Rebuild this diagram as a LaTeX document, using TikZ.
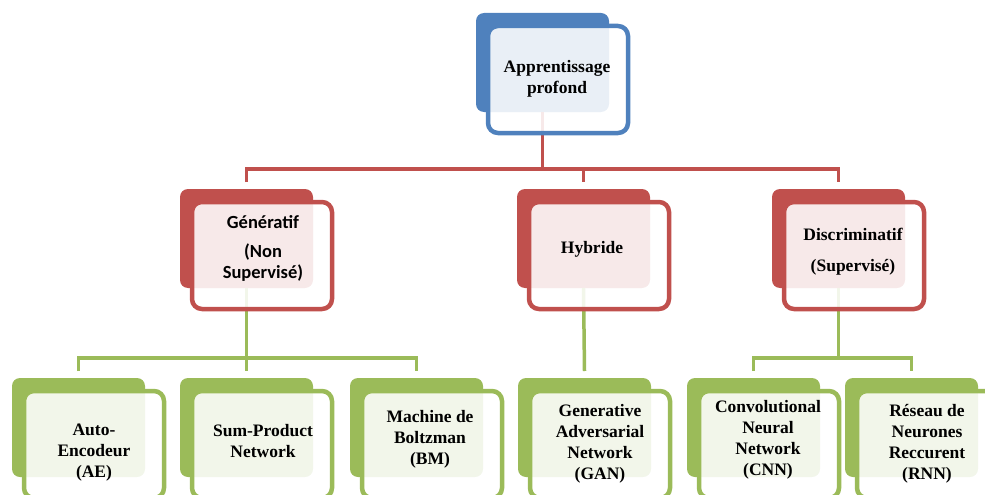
\documentclass[tikz,border=0pt]{standalone}
\usepackage{fontspec}
\setmainfont{Liberation Serif}
\newfontfamily\calib{Carlito}
\definecolor{cblue}{HTML}{4F81BD}
\definecolor{cred}{HTML}{C0504D}
\definecolor{cgreen}{HTML}{9BBB59}
\begin{document}
\begin{tikzpicture}[x=1pt,y=-1pt,
  backbox/.style={rectangle, rounded corners=8pt, minimum width=133pt,
    minimum height=99pt, anchor=north west, outer sep=0pt, inner sep=0pt,
    fill=#1},
  frontbox/.style={rectangle, rounded corners=10pt, minimum width=140pt,
    minimum height=107pt, anchor=north west, outer sep=0pt, inner sep=0pt,
    draw=#1, line width=4.5pt, fill=white, fill opacity=0.88},
  conn/.style={line width=3.5pt, draw=#1},
  lbl/.style={align=center, inner sep=0pt,
    font=\bfseries\fontsize{17.5}{21}\selectfont}]
\useasboundingbox (0,0) rectangle (985,495);

% back tiles
\node[backbox=cblue]  (top) at (476,13) {};
\node[backbox=cred]   (gen) at (180,189) {};
\node[backbox=cred]   (hyb) at (517,189) {};
\node[backbox=cred]   (dis) at (772,189) {};
\node[backbox=cgreen] (ae)  at (12,378) {};
\node[backbox=cgreen] (spn) at (180,378) {};
\node[backbox=cgreen] (bm)  at (350,378) {};
\node[backbox=cgreen] (gan) at (518,378) {};
\node[backbox=cgreen] (cnn) at (687,378) {};
\node[backbox=cgreen] (rnn) at (845,378) {};

% connector buses
\coordinate (busA) at (0,169);
\coordinate (busB) at (0,358);

% level 1 -> level 2
\draw[conn=cred] (top.south) -- (top.south |- busA);
\draw[conn=cred] ([yshift=7pt]gen.north) -- (gen.north |- busA)
  -- (dis.north |- busA) -- ([yshift=7pt]dis.north);
\draw[conn=cred] (hyb.north |- busA) -- ([yshift=7pt]hyb.north);

% level 2 -> level 3
\draw[conn=cgreen] (gen.south) -- (gen.south |- busB);
\draw[conn=cgreen] ([yshift=7pt]ae.north) -- (ae.north |- busB)
  -- (bm.north |- busB) -- ([yshift=7pt]bm.north);
\draw[conn=cgreen] (spn.north |- busB) -- ([yshift=7pt]spn.north);
\draw[conn=cgreen] (hyb.south) -- ([yshift=7pt]gan.north);
\draw[conn=cgreen] (dis.south) -- (dis.south |- busB);
\draw[conn=cgreen] ([yshift=7pt]cnn.north) -- (cnn.north |- busB)
  -- (rnn.north |- busB) -- ([yshift=7pt]rnn.north);

% front frames
\node[frontbox=cblue]  (topF) at (488,26) {};
\node[frontbox=cred]   (genF) at (192,202) {};
\node[frontbox=cred]   (hybF) at (529,202) {};
\node[frontbox=cred]   (disF) at (784,202) {};
\node[frontbox=cgreen] (aeF)  at (24,391) {};
\node[frontbox=cgreen] (spnF) at (192,391) {};
\node[frontbox=cgreen] (bmF)  at (362,391) {};
\node[frontbox=cgreen] (ganF) at (530,391) {};
\node[frontbox=cgreen] (cnnF) at (699,391) {};
\node[frontbox=cgreen] (rnnF) at (857,391) {};

% labels
\node[lbl] (topT) at (557,79) {Apprentissage\\profond};
\node[lbl, font=\calib\bfseries\fontsize{18.5}{21}\selectfont] (genT) at (263,248)
  {Génératif\\[8pt](Non\\Supervisé)};
\node[lbl] (hybT) at (592,249) {Hybride};
\node[lbl] (disT) at (853,252) {Discriminatif\\[10pt](Supervisé)};
\node[lbl] (aeT)  at (94,453) {Auto-\\Encodeur\\(AE)};
\node[lbl] (spnT) at (263,441.5) {Sum-Product\\Network};
\node[lbl] (bmT)  at (430,439.5) {Machine de\\Boltzman\\(BM)};
\node[lbl] (ganT) at (600,443.5) {Generative\\Adversarial\\Network\\(GAN)};
\node[lbl] (cnnT) at (768,440) {Convolutional\\Neural\\Network\\(CNN)};
\node[lbl] (rnnT) at (927,443.5) {Réseau de\\Neurones\\Reccurent\\(RNN)};
\end{tikzpicture}
\end{document}
